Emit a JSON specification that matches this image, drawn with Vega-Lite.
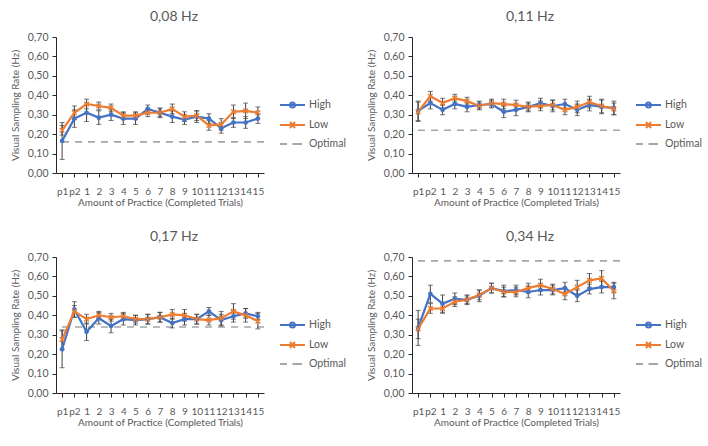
{
  "$schema": "https://vega.github.io/schema/vega-lite/v6.json",
  "padding": {"left": 10, "top": 10, "right": 4, "bottom": 4},
  "background": "white",
  "datasets": {
    "d": [
      {"p":"0,08 Hz","s":"Optimal","v":0.16},
      {"p":"0,11 Hz","s":"Optimal","v":0.22},
      {"p":"0,17 Hz","s":"Optimal","v":0.34},
      {"p":"0,34 Hz","s":"Optimal","v":0.68},

      {"p":"0,08 Hz","s":"High","t":-1,"v":0.165,"lo":0.07,"hi":0.26},
      {"p":"0,08 Hz","s":"High","t":0,"v":0.28,"lo":0.235,"hi":0.325},
      {"p":"0,08 Hz","s":"High","t":1,"v":0.31,"lo":0.265,"hi":0.355},
      {"p":"0,08 Hz","s":"High","t":2,"v":0.285,"lo":0.25,"hi":0.32},
      {"p":"0,08 Hz","s":"High","t":3,"v":0.30,"lo":0.27,"hi":0.33},
      {"p":"0,08 Hz","s":"High","t":4,"v":0.28,"lo":0.25,"hi":0.31},
      {"p":"0,08 Hz","s":"High","t":5,"v":0.28,"lo":0.25,"hi":0.31},
      {"p":"0,08 Hz","s":"High","t":6,"v":0.33,"lo":0.31,"hi":0.35},
      {"p":"0,08 Hz","s":"High","t":7,"v":0.31,"lo":0.285,"hi":0.335},
      {"p":"0,08 Hz","s":"High","t":8,"v":0.29,"lo":0.26,"hi":0.32},
      {"p":"0,08 Hz","s":"High","t":9,"v":0.275,"lo":0.25,"hi":0.30},
      {"p":"0,08 Hz","s":"High","t":10,"v":0.29,"lo":0.26,"hi":0.32},
      {"p":"0,08 Hz","s":"High","t":11,"v":0.28,"lo":0.255,"hi":0.305},
      {"p":"0,08 Hz","s":"High","t":12,"v":0.23,"lo":0.205,"hi":0.255},
      {"p":"0,08 Hz","s":"High","t":13,"v":0.26,"lo":0.235,"hi":0.285},
      {"p":"0,08 Hz","s":"High","t":14,"v":0.26,"lo":0.23,"hi":0.29},
      {"p":"0,08 Hz","s":"High","t":15,"v":0.28,"lo":0.255,"hi":0.305},
      {"p":"0,08 Hz","s":"Low","t":-1,"v":0.22,"lo":0.195,"hi":0.245},
      {"p":"0,08 Hz","s":"Low","t":0,"v":0.31,"lo":0.275,"hi":0.345},
      {"p":"0,08 Hz","s":"Low","t":1,"v":0.355,"lo":0.33,"hi":0.38},
      {"p":"0,08 Hz","s":"Low","t":2,"v":0.345,"lo":0.325,"hi":0.365},
      {"p":"0,08 Hz","s":"Low","t":3,"v":0.335,"lo":0.315,"hi":0.355},
      {"p":"0,08 Hz","s":"Low","t":4,"v":0.295,"lo":0.275,"hi":0.315},
      {"p":"0,08 Hz","s":"Low","t":5,"v":0.295,"lo":0.275,"hi":0.315},
      {"p":"0,08 Hz","s":"Low","t":6,"v":0.31,"lo":0.29,"hi":0.33},
      {"p":"0,08 Hz","s":"Low","t":7,"v":0.31,"lo":0.29,"hi":0.33},
      {"p":"0,08 Hz","s":"Low","t":8,"v":0.33,"lo":0.305,"hi":0.355},
      {"p":"0,08 Hz","s":"Low","t":9,"v":0.29,"lo":0.265,"hi":0.315},
      {"p":"0,08 Hz","s":"Low","t":10,"v":0.295,"lo":0.27,"hi":0.32},
      {"p":"0,08 Hz","s":"Low","t":11,"v":0.245,"lo":0.22,"hi":0.27},
      {"p":"0,08 Hz","s":"Low","t":12,"v":0.25,"lo":0.22,"hi":0.28},
      {"p":"0,08 Hz","s":"Low","t":13,"v":0.315,"lo":0.28,"hi":0.35},
      {"p":"0,08 Hz","s":"Low","t":14,"v":0.32,"lo":0.28,"hi":0.36},
      {"p":"0,08 Hz","s":"Low","t":15,"v":0.31,"lo":0.28,"hi":0.34},

      {"p":"0,11 Hz","s":"High","t":-1,"v":0.32,"lo":0.27,"hi":0.37},
      {"p":"0,11 Hz","s":"High","t":0,"v":0.36,"lo":0.33,"hi":0.39},
      {"p":"0,11 Hz","s":"High","t":1,"v":0.325,"lo":0.30,"hi":0.35},
      {"p":"0,11 Hz","s":"High","t":2,"v":0.355,"lo":0.33,"hi":0.38},
      {"p":"0,11 Hz","s":"High","t":3,"v":0.34,"lo":0.315,"hi":0.365},
      {"p":"0,11 Hz","s":"High","t":4,"v":0.35,"lo":0.33,"hi":0.37},
      {"p":"0,11 Hz","s":"High","t":5,"v":0.355,"lo":0.335,"hi":0.375},
      {"p":"0,11 Hz","s":"High","t":6,"v":0.315,"lo":0.285,"hi":0.345},
      {"p":"0,11 Hz","s":"High","t":7,"v":0.325,"lo":0.295,"hi":0.355},
      {"p":"0,11 Hz","s":"High","t":8,"v":0.34,"lo":0.315,"hi":0.365},
      {"p":"0,11 Hz","s":"High","t":9,"v":0.36,"lo":0.335,"hi":0.385},
      {"p":"0,11 Hz","s":"High","t":10,"v":0.345,"lo":0.315,"hi":0.375},
      {"p":"0,11 Hz","s":"High","t":11,"v":0.355,"lo":0.33,"hi":0.38},
      {"p":"0,11 Hz","s":"High","t":12,"v":0.325,"lo":0.295,"hi":0.355},
      {"p":"0,11 Hz","s":"High","t":13,"v":0.35,"lo":0.32,"hi":0.38},
      {"p":"0,11 Hz","s":"High","t":14,"v":0.34,"lo":0.305,"hi":0.375},
      {"p":"0,11 Hz","s":"High","t":15,"v":0.335,"lo":0.30,"hi":0.37},
      {"p":"0,11 Hz","s":"Low","t":-1,"v":0.315,"lo":0.265,"hi":0.365},
      {"p":"0,11 Hz","s":"Low","t":0,"v":0.395,"lo":0.37,"hi":0.42},
      {"p":"0,11 Hz","s":"Low","t":1,"v":0.36,"lo":0.335,"hi":0.385},
      {"p":"0,11 Hz","s":"Low","t":2,"v":0.385,"lo":0.365,"hi":0.405},
      {"p":"0,11 Hz","s":"Low","t":3,"v":0.37,"lo":0.35,"hi":0.39},
      {"p":"0,11 Hz","s":"Low","t":4,"v":0.345,"lo":0.325,"hi":0.365},
      {"p":"0,11 Hz","s":"Low","t":5,"v":0.36,"lo":0.34,"hi":0.38},
      {"p":"0,11 Hz","s":"Low","t":6,"v":0.355,"lo":0.33,"hi":0.38},
      {"p":"0,11 Hz","s":"Low","t":7,"v":0.35,"lo":0.325,"hi":0.375},
      {"p":"0,11 Hz","s":"Low","t":8,"v":0.34,"lo":0.32,"hi":0.36},
      {"p":"0,11 Hz","s":"Low","t":9,"v":0.345,"lo":0.32,"hi":0.37},
      {"p":"0,11 Hz","s":"Low","t":10,"v":0.35,"lo":0.325,"hi":0.375},
      {"p":"0,11 Hz","s":"Low","t":11,"v":0.325,"lo":0.30,"hi":0.35},
      {"p":"0,11 Hz","s":"Low","t":12,"v":0.34,"lo":0.31,"hi":0.37},
      {"p":"0,11 Hz","s":"Low","t":13,"v":0.365,"lo":0.335,"hi":0.395},
      {"p":"0,11 Hz","s":"Low","t":14,"v":0.345,"lo":0.31,"hi":0.38},
      {"p":"0,11 Hz","s":"Low","t":15,"v":0.33,"lo":0.30,"hi":0.36},

      {"p":"0,17 Hz","s":"High","t":-1,"v":0.225,"lo":0.13,"hi":0.32},
      {"p":"0,17 Hz","s":"High","t":0,"v":0.43,"lo":0.39,"hi":0.47},
      {"p":"0,17 Hz","s":"High","t":1,"v":0.315,"lo":0.27,"hi":0.36},
      {"p":"0,17 Hz","s":"High","t":2,"v":0.385,"lo":0.355,"hi":0.415},
      {"p":"0,17 Hz","s":"High","t":3,"v":0.345,"lo":0.31,"hi":0.38},
      {"p":"0,17 Hz","s":"High","t":4,"v":0.38,"lo":0.35,"hi":0.41},
      {"p":"0,17 Hz","s":"High","t":5,"v":0.375,"lo":0.35,"hi":0.40},
      {"p":"0,17 Hz","s":"High","t":6,"v":0.38,"lo":0.355,"hi":0.405},
      {"p":"0,17 Hz","s":"High","t":7,"v":0.39,"lo":0.365,"hi":0.415},
      {"p":"0,17 Hz","s":"High","t":8,"v":0.36,"lo":0.335,"hi":0.385},
      {"p":"0,17 Hz","s":"High","t":9,"v":0.38,"lo":0.35,"hi":0.41},
      {"p":"0,17 Hz","s":"High","t":10,"v":0.38,"lo":0.355,"hi":0.405},
      {"p":"0,17 Hz","s":"High","t":11,"v":0.42,"lo":0.40,"hi":0.44},
      {"p":"0,17 Hz","s":"High","t":12,"v":0.375,"lo":0.345,"hi":0.405},
      {"p":"0,17 Hz","s":"High","t":13,"v":0.395,"lo":0.365,"hi":0.425},
      {"p":"0,17 Hz","s":"High","t":14,"v":0.41,"lo":0.385,"hi":0.435},
      {"p":"0,17 Hz","s":"High","t":15,"v":0.395,"lo":0.375,"hi":0.415},
      {"p":"0,17 Hz","s":"Low","t":-1,"v":0.275,"lo":0.225,"hi":0.325},
      {"p":"0,17 Hz","s":"Low","t":0,"v":0.42,"lo":0.39,"hi":0.45},
      {"p":"0,17 Hz","s":"Low","t":1,"v":0.38,"lo":0.355,"hi":0.405},
      {"p":"0,17 Hz","s":"Low","t":2,"v":0.40,"lo":0.38,"hi":0.42},
      {"p":"0,17 Hz","s":"Low","t":3,"v":0.39,"lo":0.37,"hi":0.41},
      {"p":"0,17 Hz","s":"Low","t":4,"v":0.395,"lo":0.375,"hi":0.415},
      {"p":"0,17 Hz","s":"Low","t":5,"v":0.38,"lo":0.36,"hi":0.40},
      {"p":"0,17 Hz","s":"Low","t":6,"v":0.38,"lo":0.355,"hi":0.405},
      {"p":"0,17 Hz","s":"Low","t":7,"v":0.39,"lo":0.365,"hi":0.415},
      {"p":"0,17 Hz","s":"Low","t":8,"v":0.405,"lo":0.38,"hi":0.43},
      {"p":"0,17 Hz","s":"Low","t":9,"v":0.40,"lo":0.37,"hi":0.43},
      {"p":"0,17 Hz","s":"Low","t":10,"v":0.38,"lo":0.355,"hi":0.405},
      {"p":"0,17 Hz","s":"Low","t":11,"v":0.375,"lo":0.35,"hi":0.40},
      {"p":"0,17 Hz","s":"Low","t":12,"v":0.385,"lo":0.35,"hi":0.42},
      {"p":"0,17 Hz","s":"Low","t":13,"v":0.42,"lo":0.38,"hi":0.46},
      {"p":"0,17 Hz","s":"Low","t":14,"v":0.40,"lo":0.365,"hi":0.435},
      {"p":"0,17 Hz","s":"Low","t":15,"v":0.37,"lo":0.33,"hi":0.41},

      {"p":"0,34 Hz","s":"High","t":-1,"v":0.335,"lo":0.245,"hi":0.425},
      {"p":"0,34 Hz","s":"High","t":0,"v":0.51,"lo":0.465,"hi":0.555},
      {"p":"0,34 Hz","s":"High","t":1,"v":0.46,"lo":0.415,"hi":0.505},
      {"p":"0,34 Hz","s":"High","t":2,"v":0.485,"lo":0.455,"hi":0.515},
      {"p":"0,34 Hz","s":"High","t":3,"v":0.48,"lo":0.455,"hi":0.505},
      {"p":"0,34 Hz","s":"High","t":4,"v":0.50,"lo":0.47,"hi":0.53},
      {"p":"0,34 Hz","s":"High","t":5,"v":0.54,"lo":0.515,"hi":0.565},
      {"p":"0,34 Hz","s":"High","t":6,"v":0.525,"lo":0.495,"hi":0.555},
      {"p":"0,34 Hz","s":"High","t":7,"v":0.53,"lo":0.505,"hi":0.555},
      {"p":"0,34 Hz","s":"High","t":8,"v":0.52,"lo":0.49,"hi":0.55},
      {"p":"0,34 Hz","s":"High","t":9,"v":0.53,"lo":0.505,"hi":0.555},
      {"p":"0,34 Hz","s":"High","t":10,"v":0.53,"lo":0.505,"hi":0.555},
      {"p":"0,34 Hz","s":"High","t":11,"v":0.54,"lo":0.51,"hi":0.57},
      {"p":"0,34 Hz","s":"High","t":12,"v":0.50,"lo":0.47,"hi":0.53},
      {"p":"0,34 Hz","s":"High","t":13,"v":0.535,"lo":0.51,"hi":0.56},
      {"p":"0,34 Hz","s":"High","t":14,"v":0.545,"lo":0.515,"hi":0.575},
      {"p":"0,34 Hz","s":"High","t":15,"v":0.545,"lo":0.52,"hi":0.57},
      {"p":"0,34 Hz","s":"Low","t":-1,"v":0.33,"lo":0.28,"hi":0.38},
      {"p":"0,34 Hz","s":"Low","t":0,"v":0.435,"lo":0.41,"hi":0.46},
      {"p":"0,34 Hz","s":"Low","t":1,"v":0.435,"lo":0.41,"hi":0.46},
      {"p":"0,34 Hz","s":"Low","t":2,"v":0.47,"lo":0.445,"hi":0.495},
      {"p":"0,34 Hz","s":"Low","t":3,"v":0.48,"lo":0.46,"hi":0.50},
      {"p":"0,34 Hz","s":"Low","t":4,"v":0.505,"lo":0.48,"hi":0.53},
      {"p":"0,34 Hz","s":"Low","t":5,"v":0.54,"lo":0.515,"hi":0.565},
      {"p":"0,34 Hz","s":"Low","t":6,"v":0.52,"lo":0.495,"hi":0.545},
      {"p":"0,34 Hz","s":"Low","t":7,"v":0.52,"lo":0.495,"hi":0.545},
      {"p":"0,34 Hz","s":"Low","t":8,"v":0.54,"lo":0.515,"hi":0.565},
      {"p":"0,34 Hz","s":"Low","t":9,"v":0.555,"lo":0.525,"hi":0.585},
      {"p":"0,34 Hz","s":"Low","t":10,"v":0.535,"lo":0.51,"hi":0.56},
      {"p":"0,34 Hz","s":"Low","t":11,"v":0.51,"lo":0.48,"hi":0.54},
      {"p":"0,34 Hz","s":"Low","t":12,"v":0.545,"lo":0.51,"hi":0.58},
      {"p":"0,34 Hz","s":"Low","t":13,"v":0.58,"lo":0.545,"hi":0.615},
      {"p":"0,34 Hz","s":"Low","t":14,"v":0.59,"lo":0.55,"hi":0.63},
      {"p":"0,34 Hz","s":"Low","t":15,"v":0.525,"lo":0.485,"hi":0.565}
    ]
  },
  "data": {"name": "d"},
  "columns": 2,
  "spacing": {"row": 23, "column": 20},
  "resolve": {
    "scale": {"color": "independent", "stroke": "independent", "shape": "independent"},
    "legend": {"color": "independent", "stroke": "independent", "shape": "independent"}
  },
  "concat": [
    {
      "title": "0,08 Hz", "width": 208, "height": 136,
      "transform": [{"filter": "datum.p === '0,08 Hz'"}],
      "layer": [
        {"transform": [{"filter": "datum.s === 'Optimal'"}],
         "mark": {"type": "rule", "strokeDash": [7, 6], "strokeWidth": 1.6, "color": "#a6a6a6"},
         "encoding": {"y": {"field": "v", "type": "quantitative", "scale": {"domain": [0, 0.7], "nice": false}, "axis": {"title": "Visual Sampling Rate (Hz)", "values": [0, 0.1, 0.2, 0.3, 0.4, 0.5, 0.6, 0.7], "labelExpr": "replace(format(datum.value, '.2f'), '.', ',')"}}}},
        {"transform": [{"filter": "datum.s !== 'Optimal'"}],
         "mark": {"type": "rule", "color": "#404040", "strokeWidth": 1},
         "encoding": {"x": {"field": "t", "type": "ordinal", "scale": {"type": "point", "padding": 0.5}, "axis": {"title": "Amount of Practice (Completed Trials)", "labelExpr": "datum.value == -1 ? 'p1' : datum.value == 0 ? 'p2' : datum.label"}},
                      "y": {"field": "lo", "type": "quantitative", "scale": {"domain": [0, 0.7], "nice": false}, "axis": {"title": "Visual Sampling Rate (Hz)", "values": [0, 0.1, 0.2, 0.3, 0.4, 0.5, 0.6, 0.7], "labelExpr": "replace(format(datum.value, '.2f'), '.', ',')"}}, "y2": {"field": "hi"}}},
        {"transform": [{"filter": "datum.s !== 'Optimal'"}],
         "mark": {"type": "tick", "color": "#404040", "thickness": 1, "size": 5},
         "encoding": {"x": {"field": "t", "type": "ordinal"}, "y": {"field": "lo", "type": "quantitative", "scale": {"domain": [0, 0.7], "nice": false}, "axis": {"title": "Visual Sampling Rate (Hz)", "values": [0, 0.1, 0.2, 0.3, 0.4, 0.5, 0.6, 0.7], "labelExpr": "replace(format(datum.value, '.2f'), '.', ',')"}}}},
        {"transform": [{"filter": "datum.s !== 'Optimal'"}],
         "mark": {"type": "tick", "color": "#404040", "thickness": 1, "size": 5},
         "encoding": {"x": {"field": "t", "type": "ordinal"}, "y": {"field": "hi", "type": "quantitative", "scale": {"domain": [0, 0.7], "nice": false}, "axis": {"title": "Visual Sampling Rate (Hz)", "values": [0, 0.1, 0.2, 0.3, 0.4, 0.5, 0.6, 0.7], "labelExpr": "replace(format(datum.value, '.2f'), '.', ',')"}}}},
        {"transform": [{"filter": "datum.s !== 'Optimal'"}],
         "mark": {"type": "line", "strokeWidth": 2.2},
         "encoding": {"x": {"field": "t", "type": "ordinal"}, "y": {"field": "v", "type": "quantitative", "scale": {"domain": [0, 0.7], "nice": false}, "axis": {"title": "Visual Sampling Rate (Hz)", "values": [0, 0.1, 0.2, 0.3, 0.4, 0.5, 0.6, 0.7], "labelExpr": "replace(format(datum.value, '.2f'), '.', ',')"}},
                      "color": {"field": "s", "type": "nominal", "scale": {"domain": ["High", "Low"], "range": ["#4472C4", "#ED7D31"]}, "legend": null}}},
        {"transform": [{"filter": "datum.s === 'High'"}],
         "mark": {"type": "point", "shape": "circle", "filled": true, "size": 22, "opacity": 1, "color": "#4472C4"},
         "encoding": {"x": {"field": "t", "type": "ordinal"}, "y": {"field": "v", "type": "quantitative", "scale": {"domain": [0, 0.7], "nice": false}, "axis": {"title": "Visual Sampling Rate (Hz)", "values": [0, 0.1, 0.2, 0.3, 0.4, 0.5, 0.6, 0.7], "labelExpr": "replace(format(datum.value, '.2f'), '.', ',')"}}}},
        {"transform": [{"filter": "datum.s === 'Low'"}],
         "mark": {"type": "point", "shape": "M-1,-1L1,1M-1,1L1,-1", "filled": false, "strokeWidth": 1.4, "size": 22, "opacity": 1, "color": "#ED7D31"},
         "encoding": {"x": {"field": "t", "type": "ordinal"}, "y": {"field": "v", "type": "quantitative", "scale": {"domain": [0, 0.7], "nice": false}, "axis": {"title": "Visual Sampling Rate (Hz)", "values": [0, 0.1, 0.2, 0.3, 0.4, 0.5, 0.6, 0.7], "labelExpr": "replace(format(datum.value, '.2f'), '.', ',')"}}}},
        {"transform": [{"filter": "datum.s === 'none'"}],
         "mark": {"type": "point", "filled": false, "opacity": 1, "strokeWidth": 2},
         "encoding": {
           "stroke": {"field": "s", "type": "nominal", "scale": {"domain": ["High", "Low", "Optimal"], "range": ["#4472C4", "#ED7D31", "#a6a6a6"]}, "legend": {"title": null, "orient": "none", "legendX": 238, "legendY": 62}},
           "shape": {"field": "s", "type": "nominal", "scale": {"domain": ["High", "Low", "Optimal"], "range": ["M-4,0L1,0M-1,0A0.5,0.5,0,1,1,-2,0A0.5,0.5,0,1,1,-1,0", "M-4,0L1,0M-2,-0.6L-1,0.6M-2,0.6L-1,-0.6", "M-4,0L-2.6,0M-1.5,0L0.4,0"]}, "legend": {"title": null, "orient": "none", "legendX": 238, "legendY": 62}}
         }}
      ]
    },
    {
      "title": "0,11 Hz", "width": 208, "height": 136,
      "transform": [{"filter": "datum.p === '0,11 Hz'"}],
      "layer": [
        {"transform": [{"filter": "datum.s === 'Optimal'"}],
         "mark": {"type": "rule", "strokeDash": [7, 6], "strokeWidth": 1.6, "color": "#a6a6a6"},
         "encoding": {"y": {"field": "v", "type": "quantitative", "scale": {"domain": [0, 0.7], "nice": false}, "axis": {"title": "Visual Sampling Rate (Hz)", "values": [0, 0.1, 0.2, 0.3, 0.4, 0.5, 0.6, 0.7], "labelExpr": "replace(format(datum.value, '.2f'), '.', ',')"}}}},
        {"transform": [{"filter": "datum.s !== 'Optimal'"}],
         "mark": {"type": "rule", "color": "#404040", "strokeWidth": 1},
         "encoding": {"x": {"field": "t", "type": "ordinal", "scale": {"type": "point", "padding": 0.5}, "axis": {"title": "Amount of Practice (Completed Trials)", "labelExpr": "datum.value == -1 ? 'p1' : datum.value == 0 ? 'p2' : datum.label"}},
                      "y": {"field": "lo", "type": "quantitative", "scale": {"domain": [0, 0.7], "nice": false}, "axis": {"title": "Visual Sampling Rate (Hz)", "values": [0, 0.1, 0.2, 0.3, 0.4, 0.5, 0.6, 0.7], "labelExpr": "replace(format(datum.value, '.2f'), '.', ',')"}}, "y2": {"field": "hi"}}},
        {"transform": [{"filter": "datum.s !== 'Optimal'"}],
         "mark": {"type": "tick", "color": "#404040", "thickness": 1, "size": 5},
         "encoding": {"x": {"field": "t", "type": "ordinal"}, "y": {"field": "lo", "type": "quantitative", "scale": {"domain": [0, 0.7], "nice": false}, "axis": {"title": "Visual Sampling Rate (Hz)", "values": [0, 0.1, 0.2, 0.3, 0.4, 0.5, 0.6, 0.7], "labelExpr": "replace(format(datum.value, '.2f'), '.', ',')"}}}},
        {"transform": [{"filter": "datum.s !== 'Optimal'"}],
         "mark": {"type": "tick", "color": "#404040", "thickness": 1, "size": 5},
         "encoding": {"x": {"field": "t", "type": "ordinal"}, "y": {"field": "hi", "type": "quantitative", "scale": {"domain": [0, 0.7], "nice": false}, "axis": {"title": "Visual Sampling Rate (Hz)", "values": [0, 0.1, 0.2, 0.3, 0.4, 0.5, 0.6, 0.7], "labelExpr": "replace(format(datum.value, '.2f'), '.', ',')"}}}},
        {"transform": [{"filter": "datum.s !== 'Optimal'"}],
         "mark": {"type": "line", "strokeWidth": 2.2},
         "encoding": {"x": {"field": "t", "type": "ordinal"}, "y": {"field": "v", "type": "quantitative", "scale": {"domain": [0, 0.7], "nice": false}, "axis": {"title": "Visual Sampling Rate (Hz)", "values": [0, 0.1, 0.2, 0.3, 0.4, 0.5, 0.6, 0.7], "labelExpr": "replace(format(datum.value, '.2f'), '.', ',')"}},
                      "color": {"field": "s", "type": "nominal", "scale": {"domain": ["High", "Low"], "range": ["#4472C4", "#ED7D31"]}, "legend": null}}},
        {"transform": [{"filter": "datum.s === 'High'"}],
         "mark": {"type": "point", "shape": "circle", "filled": true, "size": 22, "opacity": 1, "color": "#4472C4"},
         "encoding": {"x": {"field": "t", "type": "ordinal"}, "y": {"field": "v", "type": "quantitative", "scale": {"domain": [0, 0.7], "nice": false}, "axis": {"title": "Visual Sampling Rate (Hz)", "values": [0, 0.1, 0.2, 0.3, 0.4, 0.5, 0.6, 0.7], "labelExpr": "replace(format(datum.value, '.2f'), '.', ',')"}}}},
        {"transform": [{"filter": "datum.s === 'Low'"}],
         "mark": {"type": "point", "shape": "M-1,-1L1,1M-1,1L1,-1", "filled": false, "strokeWidth": 1.4, "size": 22, "opacity": 1, "color": "#ED7D31"},
         "encoding": {"x": {"field": "t", "type": "ordinal"}, "y": {"field": "v", "type": "quantitative", "scale": {"domain": [0, 0.7], "nice": false}, "axis": {"title": "Visual Sampling Rate (Hz)", "values": [0, 0.1, 0.2, 0.3, 0.4, 0.5, 0.6, 0.7], "labelExpr": "replace(format(datum.value, '.2f'), '.', ',')"}}}},
        {"transform": [{"filter": "datum.s === 'none'"}],
         "mark": {"type": "point", "filled": false, "opacity": 1, "strokeWidth": 2},
         "encoding": {
           "stroke": {"field": "s", "type": "nominal", "scale": {"domain": ["High", "Low", "Optimal"], "range": ["#4472C4", "#ED7D31", "#a6a6a6"]}, "legend": {"title": null, "orient": "none", "legendX": 238, "legendY": 62}},
           "shape": {"field": "s", "type": "nominal", "scale": {"domain": ["High", "Low", "Optimal"], "range": ["M-4,0L1,0M-1,0A0.5,0.5,0,1,1,-2,0A0.5,0.5,0,1,1,-1,0", "M-4,0L1,0M-2,-0.6L-1,0.6M-2,0.6L-1,-0.6", "M-4,0L-2.6,0M-1.5,0L0.4,0"]}, "legend": {"title": null, "orient": "none", "legendX": 238, "legendY": 62}}
         }}
      ]
    },
    {
      "title": "0,17 Hz", "width": 208, "height": 136,
      "transform": [{"filter": "datum.p === '0,17 Hz'"}],
      "layer": [
        {"transform": [{"filter": "datum.s === 'Optimal'"}],
         "mark": {"type": "rule", "strokeDash": [7, 6], "strokeWidth": 1.6, "color": "#a6a6a6"},
         "encoding": {"y": {"field": "v", "type": "quantitative", "scale": {"domain": [0, 0.7], "nice": false}, "axis": {"title": "Visual Sampling Rate (Hz)", "values": [0, 0.1, 0.2, 0.3, 0.4, 0.5, 0.6, 0.7], "labelExpr": "replace(format(datum.value, '.2f'), '.', ',')"}}}},
        {"transform": [{"filter": "datum.s !== 'Optimal'"}],
         "mark": {"type": "rule", "color": "#404040", "strokeWidth": 1},
         "encoding": {"x": {"field": "t", "type": "ordinal", "scale": {"type": "point", "padding": 0.5}, "axis": {"title": "Amount of Practice (Completed Trials)", "labelExpr": "datum.value == -1 ? 'p1' : datum.value == 0 ? 'p2' : datum.label"}},
                      "y": {"field": "lo", "type": "quantitative", "scale": {"domain": [0, 0.7], "nice": false}, "axis": {"title": "Visual Sampling Rate (Hz)", "values": [0, 0.1, 0.2, 0.3, 0.4, 0.5, 0.6, 0.7], "labelExpr": "replace(format(datum.value, '.2f'), '.', ',')"}}, "y2": {"field": "hi"}}},
        {"transform": [{"filter": "datum.s !== 'Optimal'"}],
         "mark": {"type": "tick", "color": "#404040", "thickness": 1, "size": 5},
         "encoding": {"x": {"field": "t", "type": "ordinal"}, "y": {"field": "lo", "type": "quantitative", "scale": {"domain": [0, 0.7], "nice": false}, "axis": {"title": "Visual Sampling Rate (Hz)", "values": [0, 0.1, 0.2, 0.3, 0.4, 0.5, 0.6, 0.7], "labelExpr": "replace(format(datum.value, '.2f'), '.', ',')"}}}},
        {"transform": [{"filter": "datum.s !== 'Optimal'"}],
         "mark": {"type": "tick", "color": "#404040", "thickness": 1, "size": 5},
         "encoding": {"x": {"field": "t", "type": "ordinal"}, "y": {"field": "hi", "type": "quantitative", "scale": {"domain": [0, 0.7], "nice": false}, "axis": {"title": "Visual Sampling Rate (Hz)", "values": [0, 0.1, 0.2, 0.3, 0.4, 0.5, 0.6, 0.7], "labelExpr": "replace(format(datum.value, '.2f'), '.', ',')"}}}},
        {"transform": [{"filter": "datum.s !== 'Optimal'"}],
         "mark": {"type": "line", "strokeWidth": 2.2},
         "encoding": {"x": {"field": "t", "type": "ordinal"}, "y": {"field": "v", "type": "quantitative", "scale": {"domain": [0, 0.7], "nice": false}, "axis": {"title": "Visual Sampling Rate (Hz)", "values": [0, 0.1, 0.2, 0.3, 0.4, 0.5, 0.6, 0.7], "labelExpr": "replace(format(datum.value, '.2f'), '.', ',')"}},
                      "color": {"field": "s", "type": "nominal", "scale": {"domain": ["High", "Low"], "range": ["#4472C4", "#ED7D31"]}, "legend": null}}},
        {"transform": [{"filter": "datum.s === 'High'"}],
         "mark": {"type": "point", "shape": "circle", "filled": true, "size": 22, "opacity": 1, "color": "#4472C4"},
         "encoding": {"x": {"field": "t", "type": "ordinal"}, "y": {"field": "v", "type": "quantitative", "scale": {"domain": [0, 0.7], "nice": false}, "axis": {"title": "Visual Sampling Rate (Hz)", "values": [0, 0.1, 0.2, 0.3, 0.4, 0.5, 0.6, 0.7], "labelExpr": "replace(format(datum.value, '.2f'), '.', ',')"}}}},
        {"transform": [{"filter": "datum.s === 'Low'"}],
         "mark": {"type": "point", "shape": "M-1,-1L1,1M-1,1L1,-1", "filled": false, "strokeWidth": 1.4, "size": 22, "opacity": 1, "color": "#ED7D31"},
         "encoding": {"x": {"field": "t", "type": "ordinal"}, "y": {"field": "v", "type": "quantitative", "scale": {"domain": [0, 0.7], "nice": false}, "axis": {"title": "Visual Sampling Rate (Hz)", "values": [0, 0.1, 0.2, 0.3, 0.4, 0.5, 0.6, 0.7], "labelExpr": "replace(format(datum.value, '.2f'), '.', ',')"}}}},
        {"transform": [{"filter": "datum.s === 'none'"}],
         "mark": {"type": "point", "filled": false, "opacity": 1, "strokeWidth": 2},
         "encoding": {
           "stroke": {"field": "s", "type": "nominal", "scale": {"domain": ["High", "Low", "Optimal"], "range": ["#4472C4", "#ED7D31", "#a6a6a6"]}, "legend": {"title": null, "orient": "none", "legendX": 238, "legendY": 62}},
           "shape": {"field": "s", "type": "nominal", "scale": {"domain": ["High", "Low", "Optimal"], "range": ["M-4,0L1,0M-1,0A0.5,0.5,0,1,1,-2,0A0.5,0.5,0,1,1,-1,0", "M-4,0L1,0M-2,-0.6L-1,0.6M-2,0.6L-1,-0.6", "M-4,0L-2.6,0M-1.5,0L0.4,0"]}, "legend": {"title": null, "orient": "none", "legendX": 238, "legendY": 62}}
         }}
      ]
    },
    {
      "title": "0,34 Hz", "width": 208, "height": 136,
      "transform": [{"filter": "datum.p === '0,34 Hz'"}],
      "layer": [
        {"transform": [{"filter": "datum.s === 'Optimal'"}],
         "mark": {"type": "rule", "strokeDash": [7, 6], "strokeWidth": 1.6, "color": "#a6a6a6"},
         "encoding": {"y": {"field": "v", "type": "quantitative", "scale": {"domain": [0, 0.7], "nice": false}, "axis": {"title": "Visual Sampling Rate (Hz)", "values": [0, 0.1, 0.2, 0.3, 0.4, 0.5, 0.6, 0.7], "labelExpr": "replace(format(datum.value, '.2f'), '.', ',')"}}}},
        {"transform": [{"filter": "datum.s !== 'Optimal'"}],
         "mark": {"type": "rule", "color": "#404040", "strokeWidth": 1},
         "encoding": {"x": {"field": "t", "type": "ordinal", "scale": {"type": "point", "padding": 0.5}, "axis": {"title": "Amount of Practice (Completed Trials)", "labelExpr": "datum.value == -1 ? 'p1' : datum.value == 0 ? 'p2' : datum.label"}},
                      "y": {"field": "lo", "type": "quantitative", "scale": {"domain": [0, 0.7], "nice": false}, "axis": {"title": "Visual Sampling Rate (Hz)", "values": [0, 0.1, 0.2, 0.3, 0.4, 0.5, 0.6, 0.7], "labelExpr": "replace(format(datum.value, '.2f'), '.', ',')"}}, "y2": {"field": "hi"}}},
        {"transform": [{"filter": "datum.s !== 'Optimal'"}],
         "mark": {"type": "tick", "color": "#404040", "thickness": 1, "size": 5},
         "encoding": {"x": {"field": "t", "type": "ordinal"}, "y": {"field": "lo", "type": "quantitative", "scale": {"domain": [0, 0.7], "nice": false}, "axis": {"title": "Visual Sampling Rate (Hz)", "values": [0, 0.1, 0.2, 0.3, 0.4, 0.5, 0.6, 0.7], "labelExpr": "replace(format(datum.value, '.2f'), '.', ',')"}}}},
        {"transform": [{"filter": "datum.s !== 'Optimal'"}],
         "mark": {"type": "tick", "color": "#404040", "thickness": 1, "size": 5},
         "encoding": {"x": {"field": "t", "type": "ordinal"}, "y": {"field": "hi", "type": "quantitative", "scale": {"domain": [0, 0.7], "nice": false}, "axis": {"title": "Visual Sampling Rate (Hz)", "values": [0, 0.1, 0.2, 0.3, 0.4, 0.5, 0.6, 0.7], "labelExpr": "replace(format(datum.value, '.2f'), '.', ',')"}}}},
        {"transform": [{"filter": "datum.s !== 'Optimal'"}],
         "mark": {"type": "line", "strokeWidth": 2.2},
         "encoding": {"x": {"field": "t", "type": "ordinal"}, "y": {"field": "v", "type": "quantitative", "scale": {"domain": [0, 0.7], "nice": false}, "axis": {"title": "Visual Sampling Rate (Hz)", "values": [0, 0.1, 0.2, 0.3, 0.4, 0.5, 0.6, 0.7], "labelExpr": "replace(format(datum.value, '.2f'), '.', ',')"}},
                      "color": {"field": "s", "type": "nominal", "scale": {"domain": ["High", "Low"], "range": ["#4472C4", "#ED7D31"]}, "legend": null}}},
        {"transform": [{"filter": "datum.s === 'High'"}],
         "mark": {"type": "point", "shape": "circle", "filled": true, "size": 22, "opacity": 1, "color": "#4472C4"},
         "encoding": {"x": {"field": "t", "type": "ordinal"}, "y": {"field": "v", "type": "quantitative", "scale": {"domain": [0, 0.7], "nice": false}, "axis": {"title": "Visual Sampling Rate (Hz)", "values": [0, 0.1, 0.2, 0.3, 0.4, 0.5, 0.6, 0.7], "labelExpr": "replace(format(datum.value, '.2f'), '.', ',')"}}}},
        {"transform": [{"filter": "datum.s === 'Low'"}],
         "mark": {"type": "point", "shape": "M-1,-1L1,1M-1,1L1,-1", "filled": false, "strokeWidth": 1.4, "size": 22, "opacity": 1, "color": "#ED7D31"},
         "encoding": {"x": {"field": "t", "type": "ordinal"}, "y": {"field": "v", "type": "quantitative", "scale": {"domain": [0, 0.7], "nice": false}, "axis": {"title": "Visual Sampling Rate (Hz)", "values": [0, 0.1, 0.2, 0.3, 0.4, 0.5, 0.6, 0.7], "labelExpr": "replace(format(datum.value, '.2f'), '.', ',')"}}}},
        {"transform": [{"filter": "datum.s === 'none'"}],
         "mark": {"type": "point", "filled": false, "opacity": 1, "strokeWidth": 2},
         "encoding": {
           "stroke": {"field": "s", "type": "nominal", "scale": {"domain": ["High", "Low", "Optimal"], "range": ["#4472C4", "#ED7D31", "#a6a6a6"]}, "legend": {"title": null, "orient": "none", "legendX": 238, "legendY": 62}},
           "shape": {"field": "s", "type": "nominal", "scale": {"domain": ["High", "Low", "Optimal"], "range": ["M-4,0L1,0M-1,0A0.5,0.5,0,1,1,-2,0A0.5,0.5,0,1,1,-1,0", "M-4,0L1,0M-2,-0.6L-1,0.6M-2,0.6L-1,-0.6", "M-4,0L-2.6,0M-1.5,0L0.4,0"]}, "legend": {"title": null, "orient": "none", "legendX": 238, "legendY": 62}}
         }}
      ]
    }
  ],
  "config": {
    "font": "Lato",
    "view": {"stroke": null},
    "title": {"fontSize": 14, "fontWeight": "normal", "color": "#595959", "offset": 8, "font": "Lato", "dx": 14},
    "axis": {"labelFont": "Lato", "titleFont": "Lato", "labelFontSize": 10, "labelColor": "#595959", "titleFontSize": 10, "titleFontWeight": "normal", "titleColor": "#595959", "domainColor": "#262626", "tickColor": "#262626", "tickSize": 4, "grid": false, "labelPadding": 4},
    "axisX": {"labelAngle": 0, "titlePadding": 1, "labelPadding": 9},
    "axisY": {"titlePadding": 7, "labelOverlap": false, "labelFontSize": 10.5},
    "legend": {"labelFont": "Lato", "labelFontSize": 10.5, "labelColor": "#595959", "symbolSize": 100, "symbolStrokeWidth": 2, "labelOffset": 3, "rowPadding": 6}
  }
}
